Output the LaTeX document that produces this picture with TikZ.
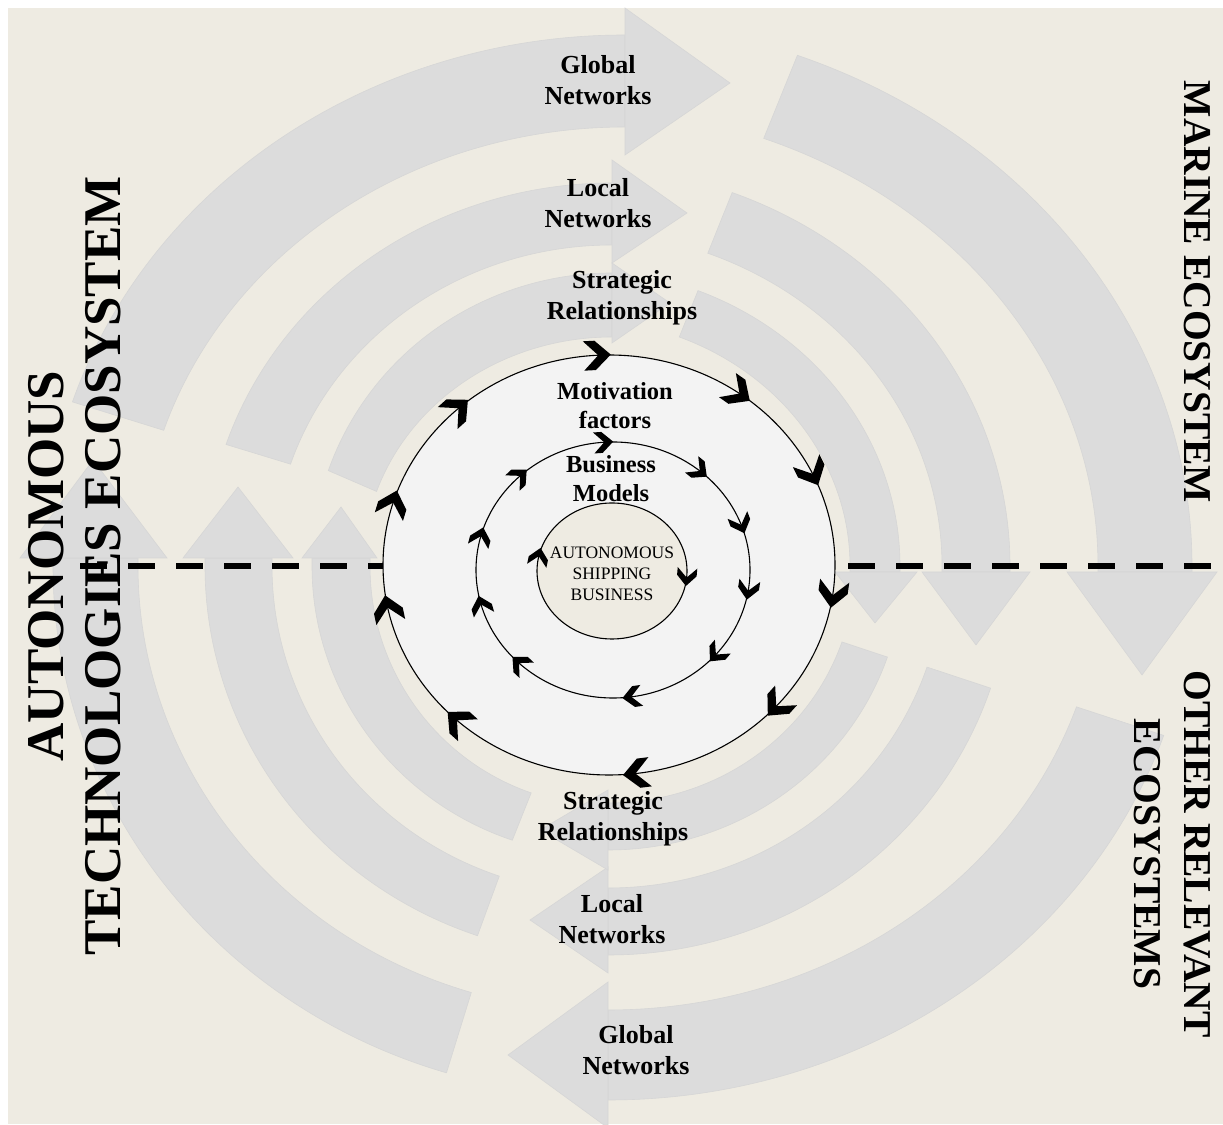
\documentclass[tikz,border=0pt]{standalone}
\usepackage{fontspec}
\setmainfont{Liberation Serif}
\usetikzlibrary{shapes.geometric}

\definecolor{bgbeige}{RGB}{238,235,226}
\definecolor{bandgray}{RGB}{220,220,220}
\definecolor{ringgray}{RGB}{243,243,243}

\tikzset{
  band/.style={fill=bandgray, draw=black!16, line width=0.6pt},
  ring/.style={draw=black, line width=1.1pt, fill=ringgray},
  lbl/.style={font=\bfseries\fontsize{26}{31}\selectfont, align=center, inner sep=0pt},
  midlbl/.style={font=\bfseries\fontsize{24.5}{29}\selectfont, align=center, inner sep=0pt},
  biglbl/.style={font=\bfseries\fontsize{53}{57}\selectfont, align=center, inner sep=0pt},
  sidelbl/.style={font=\bfseries\fontsize{39.5}{50}\selectfont, align=center, inner sep=0pt},
}

\begin{document}
\begin{tikzpicture}[x=1pt,y=1pt]
  \useasboundingbox (0,0) rectangle (1223,1124);
  \fill[bgbeige] (8,0) rectangle (1223,1116);   % background

  \begin{scope}
  \clip (8,0) rectangle (1223,1116);
  % top left quarter, heads to the right
  \filldraw[band] ([shift={(625,558)}]162:581 and 531) arc[start angle=162, end angle=90, x radius=581, y radius=531]
    -- (625,997) arc[start angle=90, end angle=162, x radius=485, y radius=439] -- cycle;   % global
  \filldraw[band] (625,1116) -- (730,1041) -- (625,969) -- cycle;
  \filldraw[band] ([shift={(612,558)}]161.5:407 and 383) arc[start angle=161.5, end angle=90, x radius=407, y radius=383]
    -- (612,879) arc[start angle=90, end angle=161.5, x radius=339, y radius=321] -- cycle;   % local
  \filldraw[band] (612,964) -- (687,911) -- (612,861) -- cycle;
  \filldraw[band] ([shift={(612,558)}]161:300 and 293) arc[start angle=161, end angle=90, x radius=300, y radius=293]
    -- (612,787) arc[start angle=90, end angle=161, x radius=249, y radius=229] -- cycle;   % strategic
  \filldraw[band] (612,861) -- (670,821) -- (612,781) -- cycle;
  % top right quarter, heads down
  \filldraw[band] ([shift={(577,558)}]69:615 and 547) arc[start angle=69, end angle=0, x radius=615, y radius=547]
    -- (1192,552) -- (1098,552) -- (1098,558) arc[start angle=0, end angle=69, x radius=521, y radius=458] -- cycle;
  \filldraw[band] (1217,552) -- (1142,449) -- (1067,552) -- cycle;
  \filldraw[band] ([shift={(577,558)}]69:433 and 400) arc[start angle=69, end angle=0, x radius=433, y radius=400]
    -- (1010,552) -- (942,552) -- (942,558) arc[start angle=0, end angle=69, x radius=365, y radius=335] -- cycle;
  \filldraw[band] (1030,552) -- (976,479) -- (922,552) -- cycle;
  \filldraw[band] ([shift={(577,558)}]68:323 and 297) arc[start angle=68, end angle=0, x radius=323, y radius=297]
    -- (900,552) -- (850,552) -- (850,558) arc[start angle=0, end angle=68, x radius=273, y radius=247] -- cycle;
  \filldraw[band] (917,552) -- (875,501) -- (835,552) -- cycle;
  % bottom right quarter, heads to the left
  \filldraw[band] ([shift={(608,558)}]-18.5:586 and 534) arc[start angle=-18.5, end angle=-90, x radius=586, y radius=534]
    -- (608,114) arc[start angle=-90, end angle=-18.5, x radius=494, y radius=444] -- cycle;
  \filldraw[band] (608,-4) -- (508,69) -- (608,142) -- cycle;
  \filldraw[band] ([shift={(608,558)}]-18.3:403 and 389) arc[start angle=-18.3, end angle=-90, x radius=403, y radius=389]
    -- (608,236) arc[start angle=-90, end angle=-18.3, x radius=336, y radius=322] -- cycle;
  \filldraw[band] (608,151) -- (530,204) -- (608,257) -- cycle;
  \filldraw[band] ([shift={(608,558)}]-18.7:295 and 284) arc[start angle=-18.7, end angle=-90, x radius=295, y radius=284]
    -- (608,321) arc[start angle=-90, end angle=-18.7, x radius=247, y radius=237] -- cycle;
  \filldraw[band] (608,254) -- (540,294) -- (608,334) -- cycle;
  % bottom left quarter, heads up
  \filldraw[band] ([shift={(609,558)}]-107:556 and 530) arc[start angle=-107, end angle=-180, x radius=556, y radius=530]
    -- (53,566) -- (138,566) -- (138,558) arc[start angle=-180, end angle=-107, x radius=471, y radius=446] -- cycle;
  \filldraw[band] (20,566) -- (93,664) -- (167,566) -- cycle;
  \filldraw[band] ([shift={(609,558)}]-109:404 and 391) arc[start angle=-109, end angle=-180, x radius=404, y radius=391]
    -- (205,566) -- (272,566) -- (272,558) arc[start angle=-180, end angle=-109, x radius=337, y radius=328] -- cycle;
  \filldraw[band] (183,566) -- (238,637) -- (293,566) -- cycle;
  \filldraw[band] ([shift={(609,558)}]-109:297 and 290) arc[start angle=-109, end angle=-180, x radius=297, y radius=290]
    -- (312,566) -- (370,566) -- (370,558) arc[start angle=-180, end angle=-109, x radius=239, y radius=240] -- cycle;
  \filldraw[band] (302,566) -- (341,617) -- (377,566) -- cycle;

  \draw[line width=6pt, dash pattern=on 27pt off 21pt] (80,558) -- (1223,558);   % dividing line
  \end{scope}

  % the rings
  \filldraw[ring] (609,559) ellipse [x radius=226, y radius=210];
  \filldraw[ring] (613,554) ellipse [x radius=137, y radius=128];
  \filldraw[ring, fill=bgbeige] (612,553) ellipse [x radius=75, y radius=68];

  % chevrons, clockwise
  \foreach \a in {93,55,26,-8,-42,-83,-132,-168,163,132}
    \fill[shift={({609+226*cos(\a)},{559+210*sin(\a)})}, rotate=\a-90, scale=1.05]
      (13,0) -- (-2,14) -- (-13,14) -- (1,0) -- (-13,-14) -- (-2,-14) -- cycle;
  \foreach \a in {94,51,21,-9,-41,-82,-133,-164,165,133}
    \fill[shift={({613+137*cos(\a)},{554+128*sin(\a)})}, rotate=\a-90, scale=0.75]
      (13,0) -- (-2,14) -- (-13,14) -- (1,0) -- (-13,-14) -- (-2,-14) -- cycle;
  \foreach \a in {168,-5}
    \fill[shift={({612+75*cos(\a)},{553+68*sin(\a)})}, rotate=\a-90, scale=0.7]
      (13,0) -- (-2,14) -- (-13,14) -- (1,0) -- (-13,-14) -- (-2,-14) -- cycle;

  % labels
  \node[lbl] (globtop) at (598,1044) {Global\\Networks};
  \node[lbl] (loctop) at (598,921) {Local\\Networks};
  \node[lbl] (strattop) at (622,826) {Strategic\\Relationships};
  \node[midlbl] (motiv) at (615,718) {Motivation\\factors};
  \node[midlbl] (busmod) at (611,645) {Business\\Models};
  \node[font=\fontsize{17.5}{21}\selectfont, align=center, inner sep=0pt] (core) at (612,550) {AUTONOMOUS\\SHIPPING\\BUSINESS};
  \node[lbl] (stratbot) at (613,305) {Strategic\\Relationships};
  \node[lbl] (locbot) at (612,205) {Local\\Networks};
  \node[lbl] (globbot) at (636,74) {Global\\Networks};

  \node[biglbl, rotate=90] (autotech) at (75,558) {AUTONOMOUS\\TECHNOLOGIES ECOSYSTEM};
  \node[sidelbl, rotate=-90] (marine) at (1197,832) {MARINE ECOSYSTEM};
  \node[sidelbl, rotate=-90] (other) at (1172,270) {OTHER RELEVANT\\ECOSYSTEMS};
\end{tikzpicture}
\end{document}
